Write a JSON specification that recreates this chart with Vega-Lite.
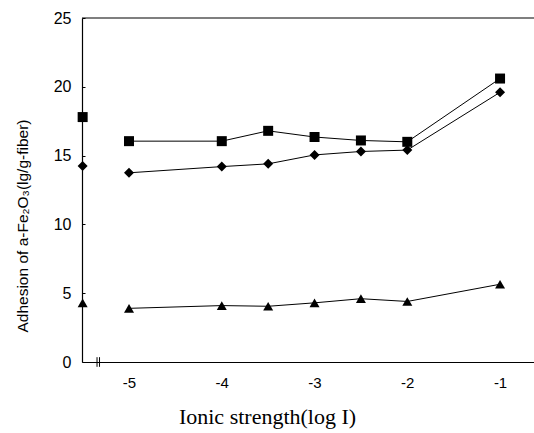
{
  "$schema": "https://vega.github.io/schema/vega-lite/v6.json",
  "autosize": {"type": "none"},
  "width": 452,
  "height": 344,
  "padding": {"left": 82, "top": 18, "right": 0, "bottom": 71},
  "background": "white",
  "config": {"view": {"stroke": null}, "font": "Liberation Sans"},
  "datasets": {
    "pts": [
      {"series": "A", "x": -5.5, "y": 17.8},
      {"series": "A", "x": -5, "y": 16.05},
      {"series": "A", "x": -4, "y": 16.05},
      {"series": "A", "x": -3.5, "y": 16.8},
      {"series": "A", "x": -3, "y": 16.35},
      {"series": "A", "x": -2.5, "y": 16.1},
      {"series": "A", "x": -2, "y": 16.0},
      {"series": "A", "x": -1, "y": 20.6},
      {"series": "B", "x": -5.5, "y": 14.25},
      {"series": "B", "x": -5, "y": 13.75},
      {"series": "B", "x": -4, "y": 14.2},
      {"series": "B", "x": -3.5, "y": 14.4},
      {"series": "B", "x": -3, "y": 15.05},
      {"series": "B", "x": -2.5, "y": 15.3},
      {"series": "B", "x": -2, "y": 15.4},
      {"series": "B", "x": -1, "y": 19.6},
      {"series": "C", "x": -5.5, "y": 4.3},
      {"series": "C", "x": -5, "y": 3.9},
      {"series": "C", "x": -4, "y": 4.1},
      {"series": "C", "x": -3.5, "y": 4.05},
      {"series": "C", "x": -3, "y": 4.3},
      {"series": "C", "x": -2.5, "y": 4.6},
      {"series": "C", "x": -2, "y": 4.4},
      {"series": "C", "x": -1, "y": 5.65}
    ],
    "brk": [
      {"x": -5.345, "y": -0.35, "y2": 0.35},
      {"x": -5.318, "y": -0.35, "y2": 0.35}
    ],
    "top": [{"y": 25}]
  },
  "layer": [
    {
      "data": {"name": "top"},
      "mark": {"type": "rule", "color": "black", "strokeWidth": 1.2},
      "encoding": {
        "y": {"field": "y", "type": "quantitative"}
      }
    },
    {
      "data": {"name": "pts"},
      "transform": [{"filter": "datum.x > -5.4"}],
      "mark": {"type": "line", "color": "black", "strokeWidth": 1},
      "encoding": {
        "x": {"field": "x", "type": "quantitative"},
        "y": {"field": "y", "type": "quantitative"},
        "detail": {"field": "series"}
      }
    },
    {
      "data": {"name": "pts"},
      "mark": {"type": "point", "filled": true, "opacity": 1, "color": "black", "size": 100},
      "encoding": {
        "x": {"field": "x", "type": "quantitative"},
        "y": {"field": "y", "type": "quantitative"},
        "shape": {
          "field": "series",
          "type": "nominal",
          "scale": {"domain": ["A", "B", "C"], "range": ["square", "diamond", "triangle-up"]},
          "legend": null
        }
      }
    },
    {
      "data": {"name": "brk"},
      "mark": {"type": "rule", "color": "black", "strokeWidth": 1},
      "encoding": {
        "x": {"field": "x", "type": "quantitative"},
        "y": {"field": "y", "type": "quantitative"},
        "y2": {"field": "y2"}
      }
    }
  ],
  "encoding": {
    "x": {
      "type": "quantitative",
      "scale": {"domain": [-5.507, -0.634], "nice": false, "zero": false},
      "axis": {
        "values": [-5, -4, -3, -2, -1],
        "labelExpr": "'' + datum.value",
        "title": "Ionic strength(log I)",
        "titleFont": "Liberation Serif",
        "titleFontSize": 22,
        "titleFontWeight": "normal",
        "titleColor": "black",
        "titleX": 185,
        "titleY": 61,
        "titleBaseline": "alphabetic",
        "labelFontSize": 15,
        "labelColor": "black",
        "labelPadding": 13,
        "ticks": false,
        "grid": false,
        "domainColor": "black",
        "domainWidth": 1.2
      }
    },
    "y": {
      "type": "quantitative",
      "scale": {"domain": [0, 25], "nice": false},
      "axis": {
        "values": [0, 5, 10, 15, 20, 25],
        "title": "Adhesion of a-Fe₂O₃(lg/g-fiber)",
        "titleFontSize": 15.5,
        "titleFontWeight": "normal",
        "titleColor": "black",
        "titleX": -55,
        "titleY": 207.5,
        "titleAngle": -90,
        "titleAlign": "center",
        "titleBaseline": "alphabetic",
        "labelFontSize": 16,
        "labelColor": "black",
        "labelPadding": 14,
        "tickSize": -3,
        "tickColor": "black",
        "grid": false,
        "domainColor": "black",
        "domainWidth": 1.2
      }
    }
  }
}
